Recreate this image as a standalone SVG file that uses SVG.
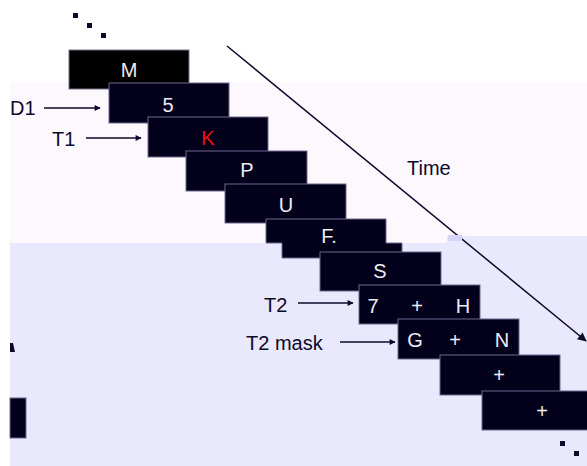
<svg xmlns="http://www.w3.org/2000/svg" width="587" height="466" viewBox="0 0 587 466">
  <style>
    .box { fill: #03001c; stroke: #6e6890; stroke-width: 1; }
    .bt { font-family: "Liberation Sans", Arial, sans-serif; font-size: 20px; fill: #ececf4; text-anchor: middle; }
    .lb { font-family: "Liberation Sans", Arial, sans-serif; font-size: 20px; fill: #0c0a2a; }
    .ln { stroke: #0c0a2a; stroke-width: 1.5; fill: none; }
    .dot { fill: #0c0a2a; }
  </style>
  <defs>
    <marker id="ah" viewBox="0 0 10 10" refX="9" refY="5" markerWidth="7" markerHeight="6" markerUnits="userSpaceOnUse" orient="auto">
      <path d="M0,0 L10,5 L0,10 z" fill="#0c0a2a"/>
    </marker>
    <marker id="ahb" viewBox="0 0 10 10" refX="9" refY="5" markerWidth="10" markerHeight="9" markerUnits="userSpaceOnUse" orient="auto">
      <path d="M0,0 L10,5 L0,10 z" fill="#0c0a2a"/>
    </marker>
  </defs>

  <!-- background -->
  <rect x="0" y="0" width="587" height="466" fill="#ffffff"/>
  <rect x="10" y="82" width="577" height="161" fill="#fdf7fe"/>
  <rect x="10" y="243" width="577" height="223" fill="#e9e8fc"/>
  <rect x="447" y="236" width="140" height="8" fill="#e9e8fc"/>

  <!-- decorative dots -->
  <rect class="dot" x="73" y="13" width="5" height="5"/>
  <rect class="dot" x="87" y="23" width="5" height="5"/>
  <rect class="dot" x="101" y="33" width="5" height="5"/>
  <rect class="dot" x="560" y="441" width="5" height="5"/>
  <rect class="dot" x="574" y="451" width="5" height="5"/>

  <!-- left edge artifacts -->
  <path d="M10,343 L13,343 L15,352 L10,352 z" fill="#0c0a2a"/>
  <rect x="10" y="398" width="16" height="40" fill="#03001c" stroke="#6e6890" stroke-width="1"/>

  <!-- connectors -->
  <g id="connectors">
    <line class="ln" x1="227" y1="46" x2="586" y2="341" stroke-width="2" marker-end="url(#ahb)"/>
    <rect x="448" y="235" width="14" height="6" fill="#d6d4f6"/>
    <line class="ln" x1="44" y1="108" x2="100" y2="108" marker-end="url(#ah)"/>
    <line class="ln" x1="86" y1="138" x2="141" y2="138" marker-end="url(#ah)"/>
    <line class="ln" x1="298" y1="303" x2="353" y2="303" marker-end="url(#ah)"/>
    <line class="ln" x1="340" y1="342" x2="395" y2="342" marker-end="url(#ah)"/>
  </g>

  <!-- labels -->
  <g id="label-d1"><text class="lb" x="10" y="115">D1</text></g>
  <g id="label-t1"><text class="lb" x="52" y="146">T1</text></g>
  <g id="label-t2"><text class="lb" x="264" y="312">T2</text></g>
  <g id="label-t2mask"><text class="lb" x="246" y="350">T2 mask</text></g>
  <g id="label-time"><text class="lb" x="407" y="175">Time</text></g>

  <!-- frames -->
  <g id="frame-m">
    <rect x="69" y="50" width="120" height="39" fill="#000000" stroke="#77738a" stroke-width="1"/>
    <text class="bt" x="129" y="77">M</text>
  </g>
  <g id="frame-5">
    <rect class="box" x="109" y="83" width="120" height="40"/>
    <text class="bt" x="168" y="112">5</text>
  </g>
  <g id="frame-k">
    <rect class="box" x="148" y="117" width="120" height="40"/>
    <text class="bt" x="208" y="145" style="fill:#ee1111">K</text>
  </g>
  <g id="frame-p">
    <rect class="box" x="186" y="151" width="121" height="40"/>
    <text class="bt" x="247" y="177">P</text>
  </g>
  <g id="frame-u">
    <rect class="box" x="225" y="184" width="121" height="39"/>
    <text class="bt" x="286" y="212">U</text>
  </g>
  <g id="frame-f">
    <path class="box" d="M266,219 L386,219 L386,243 L402,243 L402,258 L282,258 L282,243 L266,243 z"/>
    <text class="bt" x="329" y="243">F.</text>
  </g>
  <g id="frame-s">
    <rect class="box" x="320" y="252" width="121" height="39"/>
    <text class="bt" x="380" y="278">S</text>
  </g>
  <g id="frame-7h">
    <rect class="box" x="359" y="285" width="121" height="39"/>
    <text class="bt" x="373" y="313">7</text>
    <text class="bt" x="417" y="313">+</text>
    <text class="bt" x="463" y="313">H</text>
  </g>
  <g id="frame-gn">
    <rect class="box" x="398" y="319" width="121" height="40"/>
    <text class="bt" x="415" y="347">G</text>
    <text class="bt" x="455" y="347">+</text>
    <text class="bt" x="502" y="347">N</text>
  </g>
  <g id="frame-plus1">
    <rect class="box" x="440" y="355" width="120" height="40"/>
    <text class="bt" x="499" y="382">+</text>
  </g>
  <g id="frame-plus2">
    <rect class="box" x="482" y="391" width="110" height="39"/>
    <text class="bt" x="542" y="418">+</text>
  </g>
</svg>
